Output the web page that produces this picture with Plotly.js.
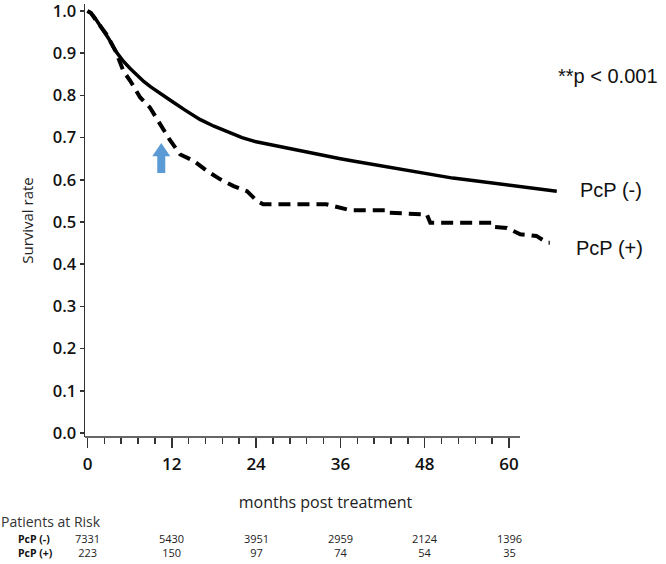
<!DOCTYPE html>
<html>
<head>
<meta charset="utf-8">
<script src="https://cdn.plot.ly/plotly-3.0.1.min.js"></script>
<style>html,body{margin:0;padding:0;background:#fff;}#chart{width:666px;height:564px;}</style>
</head>
<body>
<div id="chart"></div>
<script>
// PcP (-) survival curve
const negMonths = [0,0.5,1,2,3,4,5,6,7,8,9,10,11,12,14,16,18,20,22,24,26,28,30,32,34,36,38,40,42,44,46,48,50,52,54,56,58,60,62,64,66,66.8];
const negSurv   = [1.0,0.995,0.985,0.96,0.935,0.905,0.883,0.865,0.848,0.833,0.82,0.808,0.797,0.786,0.764,0.743,0.727,0.713,0.70,0.69,0.683,0.677,0.67,0.663,0.656,0.65,0.644,0.638,0.632,0.626,0.62,0.614,0.609,0.604,0.60,0.596,0.591,0.587,0.582,0.579,0.575,0.573];
// PcP (+) survival curve
const posMonths = [0,0.5,1.3,2.7,4.0,4.4,5.1,6.1,7.5,8.9,10.3,11.7,13.2,15.1,17,18.9,20.8,22.7,24.1,25,34,35.9,37.4,42.6,42.7,48.3,48.8,57.8,58,59.7,61.6,63.9,65.4,65.8];
const posSurv   = [1.0,0.995,0.976,0.945,0.905,0.889,0.858,0.834,0.795,0.771,0.731,0.695,0.66,0.645,0.621,0.601,0.585,0.573,0.55,0.542,0.542,0.534,0.528,0.528,0.522,0.518,0.498,0.498,0.488,0.486,0.471,0.467,0.451,0.451];

const tickMonths = [0,12,24,36,48,60];
const tickLabels = ['0','12','24','36','48','60'];
const yTicks = [0,0.1,0.2,0.3,0.4,0.5,0.6,0.7,0.8,0.9,1.0];
const yTickLabels = ['0.0','0.1','0.2','0.3','0.4','0.5','0.6','0.7','0.8','0.9','1.0'];
const riskNeg = ['7331','5430','3951','2959','2124','1396'];
const riskPos = ['223','150','97','74','54','35'];
const arrowMonth = 10.5;

// layout geometry helpers (pixels -> paper)
const L = 85, R = 566, T = 4, B = 437;
const px2x = p => (p - L) / (R - L);
const px2y = p => (B - p) / (B - T);

const minorVals = [];
for (let i = 0; i < tickMonths.length - 1; i++) {
  for (let k = 1; k < 5; k++) minorVals.push(tickMonths[i] + k * (tickMonths[i+1] - tickMonths[i]) / 5);
}

const traces = [
  {x: negMonths, y: negSurv, type: 'scatter', mode: 'lines', line: {color: '#000', width: 3.5}, name: 'PcP (-)', showlegend: false},
  {x: posMonths, y: posSurv, type: 'scatter', mode: 'lines', line: {color: '#000', width: 4, dash: '12px,7px'}, name: 'PcP (+)', showlegend: false}
];

const ann = [];
const txt = (text, x, y, opts) => Object.assign({text, x, y, xref: 'paper', yref: 'paper', showarrow: false, xanchor: 'left', yanchor: 'middle', borderpad: 0}, opts);
ann.push(txt('**p < 0.001', px2x(557), px2y(76), {font: {family: 'Liberation Sans, Arial', size: 20, color: '#111'}}));
ann.push(txt('PcP (-)', px2x(579), px2y(190), {font: {family: 'Liberation Sans, Arial', size: 20, color: '#111'}}));
ann.push(txt('PcP (+)', px2x(575), px2y(248), {font: {family: 'Liberation Sans, Arial', size: 20, color: '#111'}}));
ann.push(txt('Patients at Risk', px2x(0), px2y(521), {font: {family: 'Open Sans', size: 14, color: '#333'}}));
ann.push(txt('<b>PcP (-)</b><br><b>PcP (+)</b>', px2x(17), px2y(546), {align: 'left', font: {family: 'Open Sans', size: 10.5, color: '#111'}}));
for (let i = 0; i < tickMonths.length; i++) {
  ann.push({text: riskNeg[i] + '<br>' + riskPos[i], x: tickMonths[i], y: px2y(545), xref: 'x', yref: 'paper', showarrow: false, xanchor: 'center', yanchor: 'middle', align: 'center', borderpad: 0, font: {family: 'Open Sans', size: 11, color: '#222'}});
}

const a = arrowMonth, hw = 1.28, sw = 0.57, tip = 0.687, base = 0.656, bot = 0.616;
const shapes = [
  {type: 'line', xref: 'paper', yref: 'paper', x0: 0, x1: px2x(520), y0: 0, y1: 0, line: {color: '#333', width: 1.5}},
  {type: 'path', xref: 'x', yref: 'y', path: `M ${a},${tip} L ${a+hw},${base} L ${a+sw},${base} L ${a+sw},${bot} L ${a-sw},${bot} L ${a-sw},${base} L ${a-hw},${base} Z`, fillcolor: '#5B9BD5', line: {width: 0}}
];

const layout = {
  width: 666, height: 564,
  margin: {l: L, r: 666 - R, t: T, b: 564 - B},
  paper_bgcolor: '#fff', plot_bgcolor: '#fff',
  showlegend: false,
  xaxis: {
    range: [(L - 87.5) / 7.025, (R - 87.5) / 7.025],
    showgrid: false, zeroline: false, showline: false,
    tickmode: 'array', tickvals: tickMonths, ticktext: tickLabels,
    ticks: 'outside', ticklen: 10, tickwidth: 1.5, tickcolor: '#333',
    minor: {tickmode: 'array', tickvals: minorVals, ticks: 'outside', ticklen: 6, tickwidth: 1.5, tickcolor: '#333'},
    tickfont: {family: 'Open Sans', size: 17, weight: 600, color: '#111'},
    ticklabelstandoff: 2,
    title: {text: 'months post treatment', font: {family: 'Open Sans', size: 16, color: '#222'}, standoff: 22}
  },
  yaxis: {
    range: [-4 / 422, 429 / 422],
    showgrid: false, zeroline: false, showline: true, linecolor: '#333', linewidth: 1.5,
    tickmode: 'array', tickvals: yTicks, ticktext: yTickLabels,
    ticks: 'outside', ticklen: 4, tickwidth: 1.5, tickcolor: '#333',
    ticklabeloverflow: 'allow',
    tickfont: {family: 'Open Sans', size: 16.5, weight: 600, color: '#111'},
    title: {text: 'Survival rate', font: {family: 'Open Sans', size: 15, color: '#222'}, standoff: 15}
  },
  annotations: ann,
  shapes: shapes
};

Plotly.newPlot('chart', traces, layout, {displayModeBar: false, staticPlot: true});
</script>
</body>
</html>
